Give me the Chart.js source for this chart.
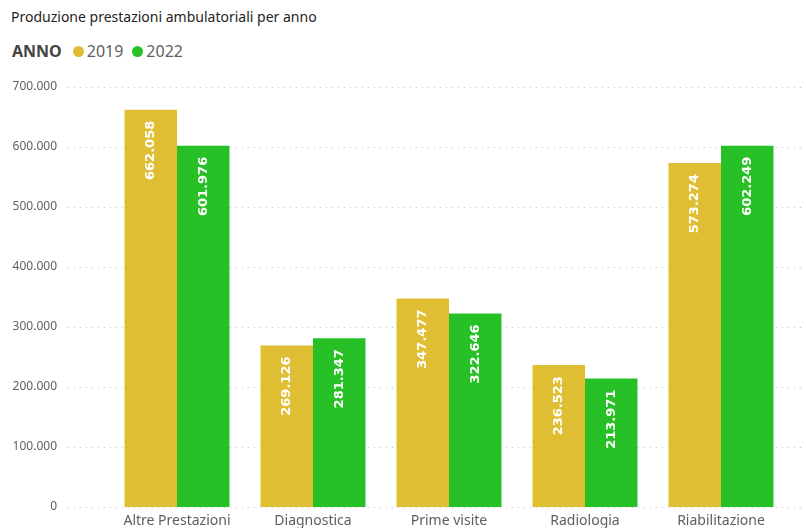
<!DOCTYPE html>
<html>
<head>
<meta charset="utf-8">
<script src="https://cdn.jsdelivr.net/npm/chart.js@4.4.1/dist/chart.umd.min.js"></script>
<style>
  body { margin: 0; overflow: hidden; background: #fff; font-family: "Noto Sans", sans-serif; }
  #titolo { position: absolute; left: 11px; top: 7px; font-size: 14px; color: #252423; }
  #legenda { position: absolute; left: 12px; top: 40px; font-size: 16px; color: #605e5c; display: flex; align-items: center; }
  #legenda b { color: #444; margin-right: 11px; }
  .pallino { display: inline-block; width: 11px; height: 11px; border-radius: 50%; margin-right: 3px; }
  .voce { display: flex; align-items: center; margin-right: 9px; }
  #myChart { position: absolute; left: 0; top: 0; }
</style>
</head>
<body>
<div id="titolo">Produzione prestazioni ambulatoriali per anno</div>
<div id="legenda"><b>ANNO</b>
  <span class="voce"><span class="pallino" style="background:#e0be34"></span>2019</span>
  <span class="voce"><span class="pallino" style="background:#27c127"></span>2022</span>
</div>
<canvas id="myChart" width="806" height="540"></canvas>
<script>
const categorie = ['Altre Prestazioni', 'Diagnostica', 'Prime visite', 'Radiologia', 'Riabilitazione'];
const anni = ['2019', '2022'];
const valori2019 = [662058, 269126, 347477, 236523, 573274];
const valori2022 = [601976, 281347, 322646, 213971, 602249];
const colori = ['#e0be34', '#27c127'];

function formato(v) {
  return String(Math.round(v)).replace(/\B(?=(\d{3})+(?!\d))/g, '.');
}

// griglia punteggiata che va oltre l'area del grafico, come nell'originale
const griglia = {
  id: 'griglia',
  beforeDatasetsDraw(chart) {
    const ctx = chart.ctx;
    const y = chart.scales.y;
    ctx.save();
    ctx.strokeStyle = '#c8c8c8';
    ctx.lineWidth = 1;
    ctx.setLineDash([1, 5]);
    y.ticks.forEach(t => {
      const py = Math.round(y.getPixelForValue(t.value)) + 0.5;
      ctx.beginPath();
      ctx.moveTo(68, py);
      ctx.lineTo(chart.width, py);
      ctx.stroke();
    });
    ctx.restore();
  }
};

// etichette dei valori ruotate dentro le barre
const etichette = {
  id: 'etichette',
  afterDatasetsDraw(chart) {
    const ctx = chart.ctx;
    ctx.save();
    ctx.fillStyle = '#ffffff';
    ctx.font = 'bold 13px "DejaVu Sans"';
    ctx.textAlign = 'right';
    ctx.textBaseline = 'middle';
    chart.data.datasets.forEach((ds, i) => {
      chart.getDatasetMeta(i).data.forEach((bar, j) => {
        ctx.save();
        ctx.translate(bar.x, bar.y + 11);
        ctx.rotate(-Math.PI / 2);
        ctx.fillText(formato(ds.data[j]), 0, 0);
        ctx.restore();
      });
    });
    ctx.restore();
  }
};

new Chart(document.getElementById('myChart'), {
  type: 'bar',
  data: {
    labels: categorie,
    datasets: [
      { label: anni[0], data: valori2019, backgroundColor: colori[0] },
      { label: anni[1], data: valori2022, backgroundColor: colori[1] }
    ]
  },
  options: {
    responsive: false,
    animation: false,
    datasets: { bar: { barPercentage: 1, categoryPercentage: 0.772 } },
    layout: { padding: { top: 87, right: 17, left: 0, bottom: 0 } },
    plugins: { legend: { display: false }, tooltip: { enabled: false } },
    scales: {
      x: {
        grid: { display: false, drawTicks: false },
        border: { display: false },
        ticks: { color: '#605e5c', font: { family: 'Noto Sans', size: 14 }, padding: 6, maxRotation: 0 },
        afterFit(scale) { scale.height = 33; }
      },
      y: {
        min: 0,
        max: 700000,
        grid: { display: false, drawTicks: false },
        border: { display: false },
        ticks: {
          stepSize: 100000,
          color: '#605e5c',
          font: { family: 'Noto Sans', size: 12 },
          padding: 52,
          callback: v => formato(v)
        },
        afterFit(scale) {
          scale.width = 109;
          scale.paddingTop = 8;
          scale.paddingBottom = 8;
        }
      }
    }
  },
  plugins: [griglia, etichette]
});
</script>
</body>
</html>
